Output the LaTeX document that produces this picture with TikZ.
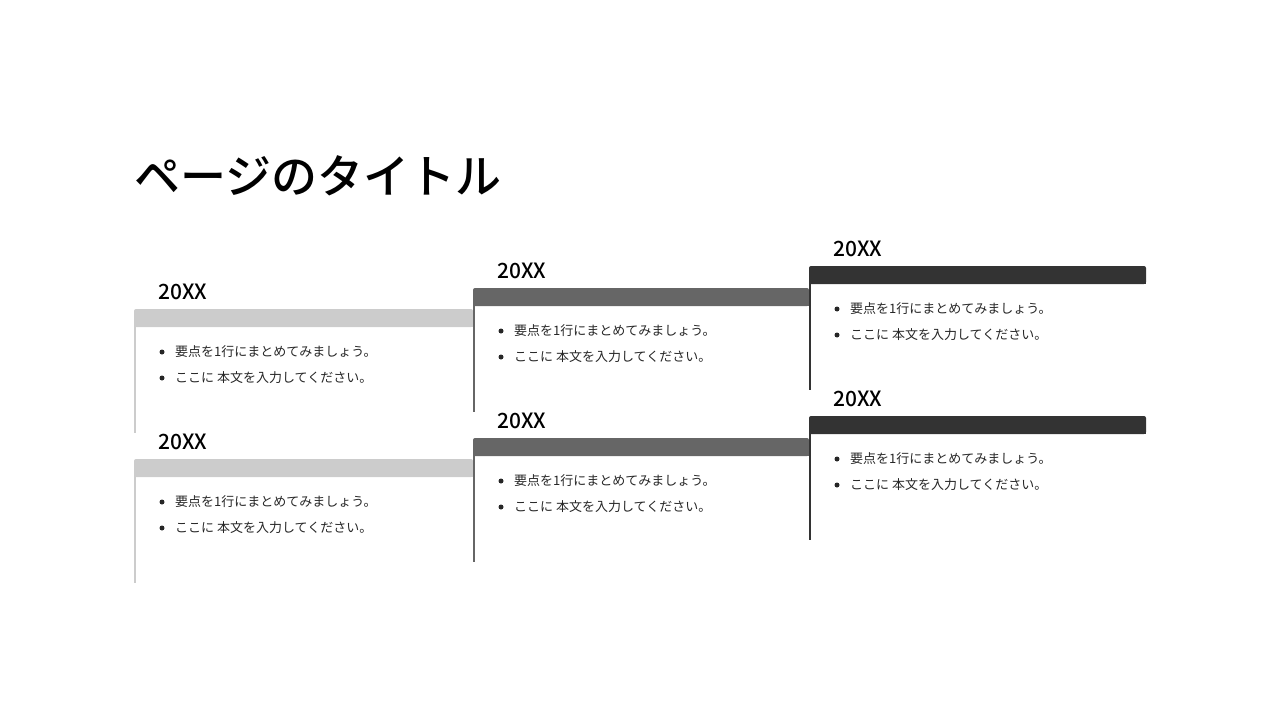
\documentclass[tikz,border=0pt]{standalone}
\usepackage{fontspec}
\setmainfont{Noto Sans CJK JP}
\newfontfamily\jpbold{Noto Sans CJK JP Medium}
\begin{document}
\begin{tikzpicture}[x=1pt,y=-1pt,
  yearlbl/.style={anchor=west,font=\fontsize{21}{21}\selectfont\jpbold,inner sep=0},
  bul/.style={anchor=west,font=\fontsize{13}{13}\selectfont,text=black!85,inner sep=0},
  dot/.style={circle,fill=black!85,inner sep=0,minimum size=5pt}]
\useasboundingbox (0,0) rectangle (1280,720);
\definecolor{cA}{HTML}{CCCCCC}\definecolor{cB}{HTML}{666666}\definecolor{cC}{HTML}{333333}
\node[anchor=west,inner sep=0,font=\fontsize{46}{46}\selectfont\jpbold] (title) at (134,176) {ページのタイトル};
\newcommand\card[5]{% x0,x1,ytop,color,name
  \fill[#4,rounded corners=2pt] (#1,#3) rectangle (#2,#3+18);
  \fill[#4] (#1,#3+9) rectangle (#2,#3+18);
  \draw[#4,line width=2pt] (#1+1,#3+18) -- (#1+1,#3+124);
  \node[yearlbl] (#5y) at (#1+24,#3-17) {20XX};
  \node[dot] (#5d1) at (#1+28,#3+43) {};
  \node[bul] (#5t1) at (#1+41,#3+43) {要点を1行にまとめてみましょう。};
  \node[dot] (#5d2) at (#1+28,#3+69) {};
  \node[bul] (#5t2) at (#1+41,#3+69) {ここに 本文を入力してください。};
}
\card{134}{473}{309}{cA}{a}
\card{134}{473}{459}{cA}{b}
\card{473}{809}{288}{cB}{c}
\card{473}{809}{438}{cB}{d}
\card{809}{1146}{266}{cC}{e}
\card{809}{1146}{416}{cC}{f}
\end{tikzpicture}
\end{document}
